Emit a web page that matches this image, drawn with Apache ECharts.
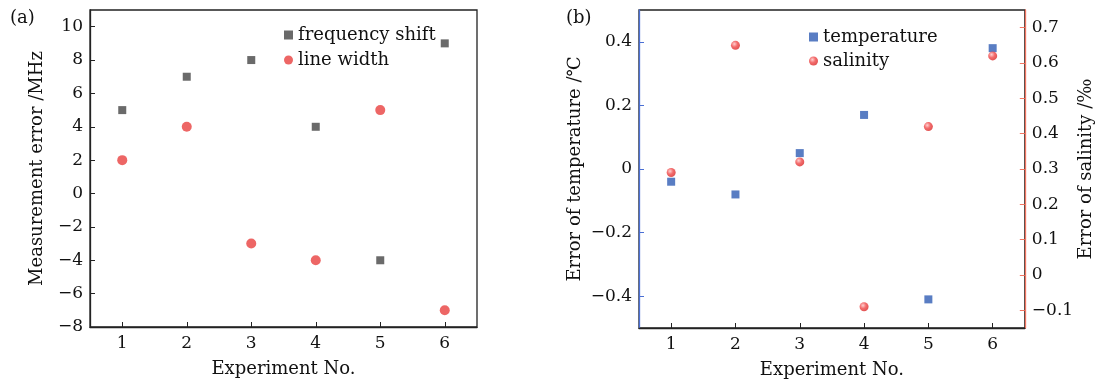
<!DOCTYPE html>
<html>
<head>
<meta charset="utf-8">
<script src="https://cdn.jsdelivr.net/npm/echarts@6/dist/echarts.min.js"></script>
<style>html,body{margin:0;padding:0;background:#fff}#c{width:1096px;height:384px}</style>
</head>
<body>
<div id="c"></div>
<script>
const experiments = [1, 2, 3, 4, 5, 6];
const frequencyShift = [5, 7, 8, 4, -4, 9];
const lineWidth = [2, 4, -3, -4, 5, -7];
const temperatureErr = [-0.04, -0.08, 0.05, 0.17, -0.41, 0.38];
const salinityErr = [0.29, 0.65, 0.32, -0.09, 0.42, 0.62];
const leftYTicks = [-8, -6, -4, -2, 0, 2, 4, 6, 8, 10];
const tempTicks = [-0.4, -0.2, 0, 0.2, 0.4];
const salTicks = [-0.1, 0, 0.1, 0.2, 0.3, 0.4, 0.5, 0.6, 0.7];

const FONT = '"DejaVu Serif", "Liberation Serif", serif';
const fmt = v => String(+(+v).toFixed(2)).replace('-', '\u2212');
const pair = (xs, ys) => xs.map((x, i) => [x, ys[i]]);

const BLUE_AX = '#4a6fd4', RED_AX = '#f27562';
const labelStyle = { fontFamily: FONT, fontSize: 17, color: '#111', formatter: fmt };
const nameStyle = { fontFamily: FONT, fontSize: 18, color: '#111' };

function xAx(grid) {
  return {
    type: 'value', gridIndex: grid, min: 0.5, max: 6.5,
    name: 'Experiment No.', nameLocation: 'middle', nameGap: 33, nameTextStyle: nameStyle,
    axisLine: { onZero: false, lineStyle: { color: '#222', width: 1.3 } },
    axisTick: { inside: true, length: 5, customValues: experiments, lineStyle: { color: '#222' } },
    axisLabel: Object.assign({}, labelStyle, { customValues: experiments, margin: 8 }),
    splitLine: { show: false }
  };
}

const salColor = {
  type: 'radial', x: 0.38, y: 0.35, r: 0.75,
  colorStops: [{ offset: 0, color: '#ffc4c4' }, { offset: 0.45, color: '#f04848' }, { offset: 1, color: '#d42020' }]
};

const option = {
  animation: false,
  backgroundColor: '#fff',
  title: [
    { text: '(a)', left: 5, top: 4, textStyle: { fontFamily: FONT, fontSize: 18, fontWeight: 'normal', color: '#111' } },
    { text: '(b)', left: 561, top: 4, textStyle: { fontFamily: FONT, fontSize: 18, fontWeight: 'normal', color: '#111' } }
  ],
  grid: [
    { left: 90, right: 619, top: 10, bottom: 57, show: true, borderColor: '#222', borderWidth: 1.3 },
    { left: 639, right: 70, top: 10, bottom: 56, show: true, borderColor: '#222', borderWidth: 1.3 }
  ],
  legend: [
    { data: ['frequency shift', 'line width'], orient: 'vertical', left: 279, top: 21, itemGap: 7,
      itemWidth: 9, itemHeight: 9, textStyle: { fontFamily: FONT, fontSize: 18, color: '#111' } },
    { data: ['temperature', 'salinity'], orient: 'vertical', left: 804, top: 23, itemGap: 6,
      itemWidth: 9, itemHeight: 9, textStyle: { fontFamily: FONT, fontSize: 18, color: '#111' } }
  ],
  xAxis: [xAx(0), xAx(1)],
  yAxis: [
    {
      type: 'value', gridIndex: 0, min: -8, max: 11,
      name: 'Measurement error /MHz', nameLocation: 'middle', nameRotate: 90, nameGap: 44, nameTextStyle: nameStyle,
      axisLine: { show: true, onZero: false, lineStyle: { color: '#222', width: 1.3 } },
      axisTick: { show: true, inside: true, length: 5, customValues: leftYTicks, lineStyle: { color: '#222' } },
      axisLabel: Object.assign({}, labelStyle, { customValues: leftYTicks, margin: 7 }),
      splitLine: { show: false }
    },
    {
      type: 'value', gridIndex: 1, min: -0.5, max: 0.5, position: 'left',
      name: 'Error of temperature /\u2103', nameLocation: 'middle', nameRotate: 90, nameGap: 55, nameTextStyle: nameStyle,
      axisLine: { show: true, onZero: false, lineStyle: { color: BLUE_AX, width: 1.3 } },
      axisTick: { show: true, inside: true, length: 5, customValues: tempTicks, lineStyle: { color: BLUE_AX } },
      axisLabel: Object.assign({}, labelStyle, { customValues: tempTicks, margin: 7 }),
      splitLine: { show: false }
    },
    {
      type: 'value', gridIndex: 1, min: -0.15, max: 0.75, position: 'right',
      name: 'Error of salinity /\u2030', nameLocation: 'middle', nameRotate: 90, nameGap: 48, nameTextStyle: nameStyle,
      axisLine: { show: true, onZero: false, lineStyle: { color: RED_AX, width: 1.3 } },
      axisTick: { show: true, inside: true, length: 5, customValues: salTicks, lineStyle: { color: RED_AX } },
      axisLabel: Object.assign({}, labelStyle, { customValues: salTicks, margin: 7 }),
      splitLine: { show: false }
    }
  ],
  series: [
    { name: 'frequency shift', type: 'scatter', xAxisIndex: 0, yAxisIndex: 0, symbol: 'rect', symbolSize: 8,
      itemStyle: { color: '#454545' }, data: pair(experiments, frequencyShift) },
    { name: 'line width', type: 'scatter', xAxisIndex: 0, yAxisIndex: 0, symbol: 'circle', symbolSize: 10,
      itemStyle: { color: '#e8403f' }, data: pair(experiments, lineWidth) },
    { name: 'temperature', type: 'scatter', xAxisIndex: 1, yAxisIndex: 1, symbol: 'rect', symbolSize: 8,
      itemStyle: { color: '#2f5cb4' }, data: pair(experiments, temperatureErr) },
    { name: 'salinity', type: 'scatter', xAxisIndex: 1, yAxisIndex: 2, symbol: 'circle', symbolSize: 9,
      itemStyle: { color: salColor }, data: pair(experiments, salinityErr) }
  ]
};
const chart = echarts.init(document.getElementById('c'), null, { renderer: 'canvas' });
chart.setOption(option);
</script>
</body>
</html>
